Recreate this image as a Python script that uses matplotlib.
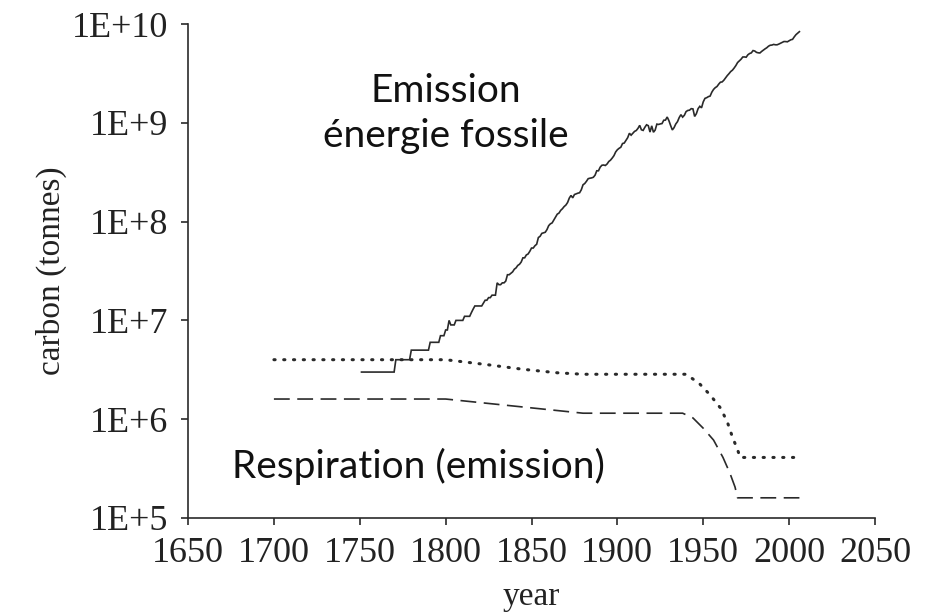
# coding=utf-8

import numpy as np;
import matplotlib.pyplot as plt;

# émissions fossiles annuelles (tonnes de carbone), 1751-2006
fossil_years = np.arange(1751, 2007);
fossil_mtc = [
    3, 3, 3, 3, 3, 3, 3, 3, 3, 3, 3, 3, 3, 3, 3, 3, 3, 3, 3, 3,          # 1751-1770
    4, 4, 4, 4, 4, 4, 4, 4, 4,                                            # 1771-1779
    5, 5, 5, 5, 5, 5, 5, 5, 5, 5, 5,                                      # 1780-1790
    6, 6, 6, 6, 6, 6, 7, 7, 7,                                            # 1791-1799
    8, 8, 10, 9, 9, 9, 10, 10, 10, 10,                                    # 1800-1809
    10, 11, 11, 11, 11, 12, 13, 14, 14, 14,                               # 1810-1819
    14, 14, 15, 16, 16, 17, 17, 18, 18, 18,                               # 1820-1829
    24, 23, 23, 24, 24, 25, 29, 29, 30, 31,                               # 1830-1839
    33, 34, 36, 37, 39, 43, 43, 46, 47, 50,                               # 1840-1849
    54, 54, 57, 59, 69, 71, 76, 77, 78, 83,                               # 1850-1859
    91, 95, 97, 104, 112, 119, 122, 130, 135, 142,                        # 1860-1869
    147, 156, 173, 184, 174, 188, 191, 194, 196, 210,                     # 1870-1879
    236, 243, 256, 272, 275, 277, 281, 295, 327, 327,                     # 1880-1889
    356, 372, 374, 370, 383, 406, 419, 440, 465, 507,                     # 1890-1899
    534, 552, 566, 617, 624, 663, 707, 784, 750, 785,                     # 1900-1909
    819, 836, 879, 943, 850, 838, 901, 955, 936, 806,                     # 1910-1919
    932, 803, 845, 970, 963, 975, 983, 1062, 1065, 1145,                  # 1920-1929
    1053, 940, 847, 893, 973, 1027, 1130, 1209, 1142, 1192,               # 1930-1939
    1299, 1334, 1342, 1391, 1383, 1160, 1238, 1392, 1469, 1419,           # 1940-1949
    1630, 1768, 1796, 1841, 1865, 2043, 2178, 2270, 2330, 2462,           # 1950-1959
    2577, 2594, 2700, 2848, 3008, 3145, 3305, 3411, 3588, 3800,           # 1960-1969
    4076, 4231, 4399, 4635, 4644, 4615, 4883, 5029, 5105, 5387,           # 1970-1979
    5332, 5168, 5113, 5094, 5280, 5439, 5607, 5752, 5965, 6097,           # 1980-1989
    6127, 6217, 6164, 6162, 6266, 6398, 6542, 6651, 6643, 6610,           # 1990-1999
    6765, 6927, 6996, 7416, 7807, 8093, 8370,                             # 2000-2006
];
fossil_t = np.array(fossil_mtc) * 1e6;

# respiration : courbe haute (pointillés) et courbe basse (tirets)
resp_hi_years = [1700, 1800, 1825, 1845, 1865, 1880, 1940, 1944, 1948, 1954, 1960, 1964, 1967, 1970, 1971.5, 2006];
resp_hi_t     = [4.0e6, 4.0e6, 3.55e6, 3.2e6, 2.95e6, 2.85e6, 2.85e6, 2.55e6, 2.27e6, 1.76e6, 1.30e6, 9.4e5, 6.6e5, 4.9e5, 4.1e5, 4.1e5];

resp_lo_years = [1700, 1800, 1880, 1938, 1944, 1950, 1956, 1961.5, 1965.5, 1968.5, 1970, 2006];
resp_lo_t     = [1.6e6, 1.6e6, 1.15e6, 1.15e6, 1.03e6, 8.1e5, 6.15e5, 4.1e5, 2.85e5, 2.06e5, 1.6e5, 1.6e5];

xticks = [1650, 1700, 1750, 1800, 1850, 1900, 1950, 2000, 2050];
yticks = [1e5, 1e6, 1e7, 1e8, 1e9, 1e10];
yticklabels = ['1E+5', '1E+6', '1E+7', '1E+8', '1E+9', '1E+10'];

fig = plt.figure(figsize=(9.36, 6.13), dpi=100);
ax = fig.add_axes([0.2009, 0.155, 0.7339, 0.8058]);

ink = '#2a2a2a';

ax.plot(fossil_years, fossil_t, color=ink, linewidth=1.2, solid_joinstyle='miter');
ax.plot(resp_hi_years, resp_hi_t, color=ink, linewidth=2.2,
        linestyle=(0, (0.4, 2.8)), dash_capstyle='round');
ax.plot(resp_lo_years, resp_lo_t, color=ink, linewidth=1.2,
        linestyle=(0, (9.5, 4.5)), dash_capstyle='butt');

ax.set_yscale('log');
ax.set_xlim(1650, 2050);
ax.set_ylim(1e5, 1e10);
ax.set_xticks(xticks);
ax.set_yticks(yticks);
ax.set_yticklabels(yticklabels);
ax.yaxis.set_minor_locator(plt.NullLocator());

# seulement les axes gauche et bas
ax.spines['right'].set_color('none');
ax.spines['top'].set_color('none');
for s in ['left', 'bottom']:
    ax.spines[s].set_linewidth(1.2);
    ax.spines[s].set_color(ink);

serif = 'Liberation Serif';
ax.tick_params(axis='both', direction='out', length=5, width=1.2, color=ink,
               labelsize=26, labelcolor='#222222', pad=9);
for label in ax.get_xticklabels() + ax.get_yticklabels():
    label.set_family(serif);

ax.set_xlabel('year', family=serif, fontsize=24, color='#222222', labelpad=8);
ax.set_ylabel('carbon (tonnes)', family=serif, fontsize=24, color='#222222', labelpad=4);

ax.text(1800, 1.25e9, 'Emission\nénergie fossile', family='Lato', fontsize=28,
        ha='center', va='center', linespacing=1.32, color='#111111');
ax.text(1675.5, 3.3e5, 'Respiration (emission)', family='Lato', fontsize=28,
        ha='left', va='center', color='#111111');

plt.savefig('out.png', dpi=100);
